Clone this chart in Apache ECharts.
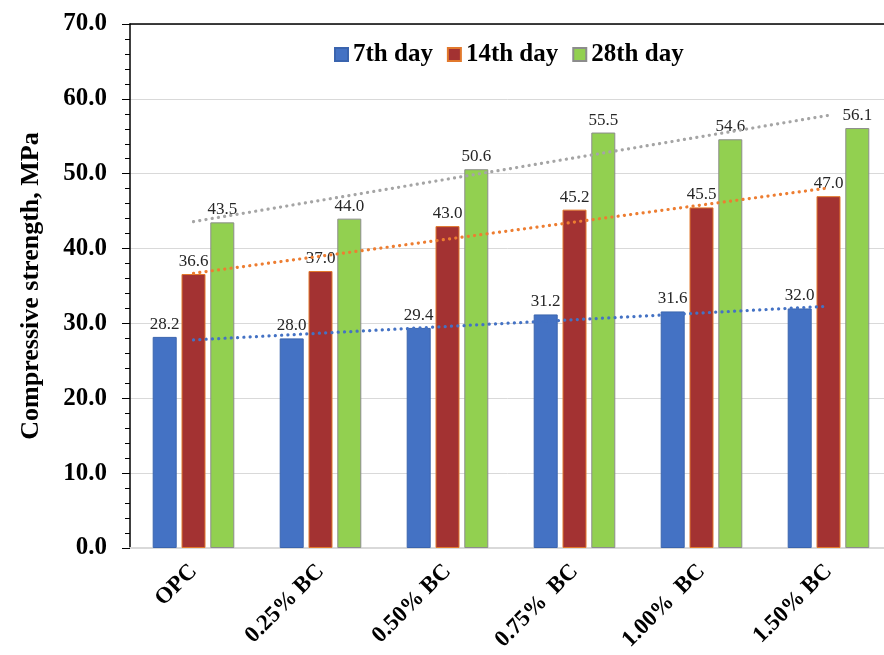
<!DOCTYPE html>
<html>
<head>
<meta charset="utf-8">
<script src="https://cdn.jsdelivr.net/npm/echarts@6/dist/echarts.min.js"></script>
<style>
  html, body { margin: 0; padding: 0; background: #fff; }
  #chart { width: 884px; height: 655px; }
</style>
</head>
<body>
<div id="chart"></div>
<script>
// Mix designs along the x axis
const categories = ['OPC', '0.25% BC', '0.50% BC', '0.75%  BC', '1.00%  BC', '1.50% BC'];

// Compressive strength (MPa) at each curing age
const day7 = [28.2, 28.0, 29.4, 31.2, 31.6, 32.0];
const day14 = [36.6, 37.0, 43.0, 45.2, 45.5, 47.0];
const day28 = [43.5, 44.0, 50.6, 55.5, 54.6, 56.1];

// Linear trend lines: start and end values, drawn across the first to last group
const trend7 = [27.8, null, null, null, null, 32.3];
const trend14 = [36.7, null, null, null, null, 48.1];
const trend28 = [43.6, null, null, null, null, 57.8];

const seriesNames = ['7th day', '14th day', '28th day'];

const serif = '"Liberation Serif", "Times New Roman", serif';

const chart = echarts.init(document.getElementById('chart'), null, { renderer: 'canvas' });

function barSeries(name, data, fill, border) {
  return {
    name: name,
    type: 'bar',
    data: data,
    barWidth: 24,
    barGap: '20%',
    itemStyle: { color: fill, borderColor: border, borderWidth: 1 },
    label: {
      show: true,
      position: 'top',
      distance: 4,
      fontFamily: serif,
      fontSize: 17,
      color: '#262626',
      formatter: p => p.value.toFixed(1)
    },
    z: 2
  };
}

function trendSeries(data, color) {
  return {
    type: 'line',
    data: data,
    connectNulls: true,
    symbol: 'none',
    silent: true,
    lineStyle: { color: color, width: 3.2, type: [0.1, 6.2], cap: 'round' },
    z: 3
  };
}

chart.setOption({
  animation: false,
  backgroundColor: '#fff',
  // the plot runs slightly past the right edge of the canvas
  grid: { left: 130, width: 762, top: 24, bottom: 107, outerBoundsMode: 'none' },
  legend: {
    data: seriesNames,
    icon: 'rect',
    left: 329,
    top: 37,
    itemWidth: 13,
    itemHeight: 13,
    itemGap: 14,
    textStyle: { fontFamily: serif, fontWeight: 'bold', fontSize: 25, color: '#000' }
  },
  xAxis: [
    {
      type: 'category',
      data: categories,
      axisLine: { lineStyle: { color: '#d9d9d9', width: 2 } },
      axisTick: { show: false },
      axisLabel: {
        interval: 0,
        rotate: 45,
        margin: 20,
        fontFamily: serif,
        fontWeight: 'bold',
        fontSize: 23,
        color: '#000'
      }
    },
    {
      type: 'category',
      data: categories,
      position: 'top',
      axisLine: { lineStyle: { color: '#000', width: 1.5 } },
      axisTick: { show: false },
      axisLabel: { show: false }
    }
  ],
  yAxis: {
    type: 'value',
    min: 0,
    max: 70,
    interval: 10,
    name: 'Compressive strength, MPa',
    nameLocation: 'middle',
    nameGap: 86,
    nameTextStyle: { fontFamily: serif, fontWeight: 'bold', fontSize: 26, color: '#000' },
    axisLine: { show: true, lineStyle: { color: '#000', width: 1.5 } },
    axisTick: { show: true, length: 8, lineStyle: { color: '#000', width: 1 } },
    minorTick: { show: true, splitNumber: 5, length: 5, lineStyle: { color: '#000', width: 1 } },
    splitLine: { show: true, lineStyle: { color: '#d9d9d9', width: 1 } },
    axisLabel: {
      margin: 23,
      fontFamily: serif,
      fontWeight: 'bold',
      fontSize: 25,
      color: '#000',
      formatter: v => v.toFixed(1)
    }
  },
  series: [
    barSeries(seriesNames[0], day7, '#4472c4', '#3a64ae'),
    barSeries(seriesNames[1], day14, '#a33232', '#e2792c'),
    barSeries(seriesNames[2], day28, '#92d050', '#8c8c8c'),
    trendSeries(trend7, '#4472c4'),
    trendSeries(trend14, '#ed7d31'),
    trendSeries(trend28, '#a5a5a5')
  ]
});
</script>
</body>
</html>
